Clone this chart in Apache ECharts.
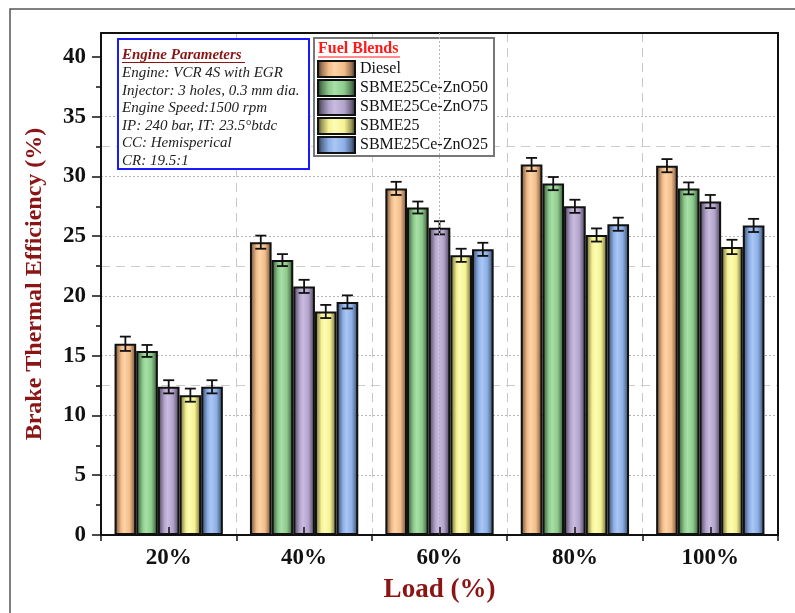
<!DOCTYPE html>
<html>
<head>
<meta charset="utf-8">
<script src="https://cdn.jsdelivr.net/npm/echarts@6/dist/echarts.min.js"></script>
<style>
html,body{margin:0;padding:0;background:#fff;}
#c{width:795px;height:613px;}
</style>
</head>
<body>
<div id="c"></div>
<script>
// ---- data ----
var loads = ['20%', '40%', '60%', '80%', '100%'];
var seriesNames = ['Diesel', 'SBME25Ce-ZnO50', 'SBME25Ce-ZnO75', 'SBME25', 'SBME25Ce-ZnO25'];
var diesel = [16.0, 24.5, 29.0, 31.0, 30.9];
var zno50 = [15.4, 23.0, 27.4, 29.4, 29.0];
var zno75 = [12.4, 20.8, 25.7, 27.5, 27.9];
var sbme25 = [11.7, 18.7, 23.4, 25.1, 24.1];
var zno25 = [12.4, 19.5, 23.9, 26.0, 25.9];
var dieselErr = [0.6, 0.55, 0.55, 0.55, 0.55];
var zno50Err = [0.5, 0.5, 0.5, 0.55, 0.5];
var zno75Err = [0.55, 0.55, 0.55, 0.55, 0.55];
var sbme25Err = [0.55, 0.55, 0.55, 0.55, 0.6];
var zno25Err = [0.55, 0.55, 0.55, 0.55, 0.55];
var yMajorTicks = [0, 5, 10, 15, 20, 25, 30, 35, 40];
var yMinorTicks = [2.5, 7.5, 12.5, 17.5, 22.5, 27.5, 32.5, 37.5];
var xCenterTicks = [0.5, 1.5, 2.5, 3.5, 4.5];
var paramTitle = 'Engine Parameters';
var paramLines = ['Engine: VCR 4S with EGR', 'Injector: 3 holes, 0.3 mm dia.', 'Engine Speed:1500 rpm',
  'IP: 240 bar, IT: 23.5\u00B0btdc', 'CC: Hemisperical', 'CR: 19.5:1'];
var legendTitle = 'Fuel Blends';

var values = [diesel, zno50, zno75, sbme25, zno25];
var errors = [dieselErr, zno50Err, zno75Err, sbme25Err, zno25Err];
var palette = [
  {base: '#F2BC88', light: '#FDD4A8', mid: '#9c7656', dark: '#2e2016'},
  {base: '#8CCB8C', light: '#A8DFA8', mid: '#567f56', dark: '#172717'},
  {base: '#B3A3CC', light: '#C9BCDE', mid: '#6f6580', dark: '#25202d'},
  {base: '#F5F290', light: '#FDFCB6', mid: '#9a985a', dark: '#302f15'},
  {base: '#8DB0E8', light: '#AAC6F3', mid: '#566d92', dark: '#151f31'}
];
function cyl(p) {
  return new echarts.graphic.LinearGradient(0, 0, 1, 0, [
    {offset: 0, color: p.dark},
    {offset: 0.12, color: p.mid},
    {offset: 0.3, color: p.base},
    {offset: 0.45, color: p.light},
    {offset: 0.7, color: p.base},
    {offset: 0.88, color: p.mid},
    {offset: 1, color: p.dark}
  ]);
}
var FONT = '"Liberation Serif", "Times New Roman", serif';
var DARKRED = '#8B1414';

var chart = echarts.init(document.getElementById('c'), null, {renderer: 'canvas'});

var series = [];
seriesNames.forEach(function (name, j) {
  series.push({
    name: name, type: 'bar', xAxisIndex: 0, yAxisIndex: 0,
    data: values[j], barGap: '0%', barCategoryGap: '20%',
    itemStyle: {color: cyl(palette[j]), borderColor: '#111', borderWidth: 2},
    z: 2
  });
});
seriesNames.forEach(function (name, j) {
  series.push({
    name: name + ' error', type: 'custom', xAxisIndex: 0, yAxisIndex: 0, z: 4,
    data: values[j].map(function (v, i) { return [i, v, errors[j][i]]; }),
    encode: {x: 0, y: 1},
    renderItem: function (params, api) {
      var i = api.value(0), v = api.value(1), e = api.value(2);
      var band = api.size([1, 0])[0];
      var bw = band * 0.8 / 5;
      var c = api.coord([i, v]);
      var x = c[0] + (j - 2) * bw;
      var yt = api.coord([i, v + e])[1];
      var yb = api.coord([i, v - e])[1];
      var hw = 5.5;
      var st = {stroke: '#111', lineWidth: 1.8};
      return {type: 'group', children: [
        {type: 'line', shape: {x1: x, y1: yt, x2: x, y2: yb}, style: st},
        {type: 'line', shape: {x1: x - hw, y1: yt, x2: x + hw, y2: yt}, style: st},
        {type: 'line', shape: {x1: x - hw, y1: yb, x2: x + hw, y2: yb}, style: st}
      ]};
    }
  });
});

var option = {
  animation: false,
  backgroundColor: '#fff',
  grid: {left: 101, right: 17, top: 33, bottom: 78, containLabel: false},
  legend: {
    data: seriesNames, orient: 'vertical', left: 312, top: 55,
    padding: 5, itemWidth: 37, itemHeight: 16, itemGap: 1, icon: 'rect',
    selectedMode: false, z: 6,
    textStyle: {fontFamily: FONT, fontSize: 16, color: '#111', lineHeight: 16}
  },
  xAxis: [
    {
      type: 'category', data: loads, position: 'bottom',
      axisLine: {onZero: false, lineStyle: {color: '#111', width: 2}},
      axisTick: {show: true, inside: false, length: 6, lineStyle: {color: '#111', width: 1.5}},
      axisLabel: {fontFamily: FONT, fontWeight: 'bold', fontSize: 23, color: '#111', margin: 12},
      splitLine: {show: true, showMinLine: false, showMaxLine: false,
        lineStyle: {color: '#c8c8c8', type: [9, 6], width: 1}},
      name: 'Load (%)', nameLocation: 'middle', nameGap: 42,
      nameTextStyle: {fontFamily: FONT, fontWeight: 'bold', fontSize: 27, color: DARKRED}
    },
    {
      type: 'value', min: 0, max: 5, interval: 0.5, position: 'bottom', z: 5,
      axisLine: {show: false, onZero: false},
      axisTick: {show: true, inside: true, length: 8, customValues: xCenterTicks,
        lineStyle: {color: '#111', width: 1.5}},
      axisLabel: {show: false},
      splitLine: {show: true, showMinLine: false, showMaxLine: false,
        lineStyle: {color: ['rgba(0,0,0,0)', '#b4b4b4'], type: [2, 2], width: 1}}
    },
    {
      type: 'category', data: loads, position: 'top',
      axisLine: {onZero: false, lineStyle: {color: '#111', width: 2}},
      axisTick: {show: false}, axisLabel: {show: false}, splitLine: {show: false}
    }
  ],
  yAxis: [
    {
      type: 'value', min: 0, max: 42, interval: 5, position: 'left',
      axisLine: {show: true, onZero: false, lineStyle: {color: '#111', width: 2}},
      axisTick: {show: true, length: 9, customValues: yMajorTicks, lineStyle: {color: '#111', width: 1.5}},
      axisLabel: {customValues: yMajorTicks, fontFamily: FONT, fontWeight: 'bold', fontSize: 23, color: '#111', margin: 15},
      splitLine: {show: true, showMinLine: false, showMaxLine: false,
        lineStyle: {color: '#b4b4b4', type: [2, 2], width: 1}},
      name: 'Brake Thermal Efficiency (%)', nameLocation: 'middle', nameGap: 54, nameRotate: 90,
      nameTextStyle: {fontFamily: FONT, fontWeight: 'bold', fontSize: 24, color: DARKRED}
    },
    {
      type: 'value', min: 0, max: 42, interval: 2.5, position: 'left',
      axisLine: {show: false, onZero: false},
      axisTick: {show: true, length: 5, customValues: yMinorTicks, lineStyle: {color: '#111', width: 1.5}},
      axisLabel: {show: false},
      splitLine: {show: true, showMinLine: false, showMaxLine: false,
        lineStyle: {color: ['rgba(0,0,0,0)', '#cccccc'], type: [9, 6], width: 1}}
    },
    {
      type: 'value', min: 0, max: 42, position: 'right',
      axisLine: {show: true, onZero: false, lineStyle: {color: '#111', width: 2}},
      axisTick: {show: false}, axisLabel: {show: false}, splitLine: {show: false}
    }
  ],
  graphic: {elements: [
    {type: 'rect', z: 0, silent: true, shape: {x: 10, y: 9, width: 900, height: 700},
      style: {fill: 'none', stroke: '#555', lineWidth: 1.5}},
    {type: 'rect', z: 3, silent: true, shape: {x: 118, y: 39, width: 191, height: 130},
      style: {fill: '#fff', stroke: '#1a1aff', lineWidth: 2}},
    {type: 'rect', z: 3, silent: true, shape: {x: 314, y: 38, width: 180, height: 118},
      style: {fill: '#fff', stroke: '#777', lineWidth: 2}},
    {type: 'text', z: 4, silent: true, x: 122, y: 55,
      style: {text: paramTitle, fill: DARKRED, fontFamily: FONT, fontSize: 15, fontStyle: 'italic', fontWeight: 'bold', verticalAlign: 'middle'}},
    {type: 'line', z: 4, silent: true, shape: {x1: 122, y1: 62.5, x2: 245, y2: 62.5},
      style: {stroke: DARKRED, lineWidth: 1.2}},
    {type: 'text', z: 4, silent: true, x: 318, y: 49,
      style: {text: legendTitle, fill: '#ff1a1a', fontFamily: FONT, fontSize: 16, fontWeight: 'bold', verticalAlign: 'middle'}}
  ].concat(paramLines.map(function (t, k) {
    return {type: 'text', z: 4, silent: true, x: 122, y: 73 + k * 17.6,
      style: {text: t, fill: '#222', fontFamily: FONT, fontSize: 15, fontStyle: 'italic', verticalAlign: 'middle'}};
  })).concat([
    {type: 'line', z: 4, silent: true, shape: {x1: 318, y1: 57, x2: 400, y2: 57},
      style: {stroke: '#ff1a1a', lineWidth: 1.2}}
  ])},
  series: series
};
chart.setOption(option);
</script>
</body>
</html>
